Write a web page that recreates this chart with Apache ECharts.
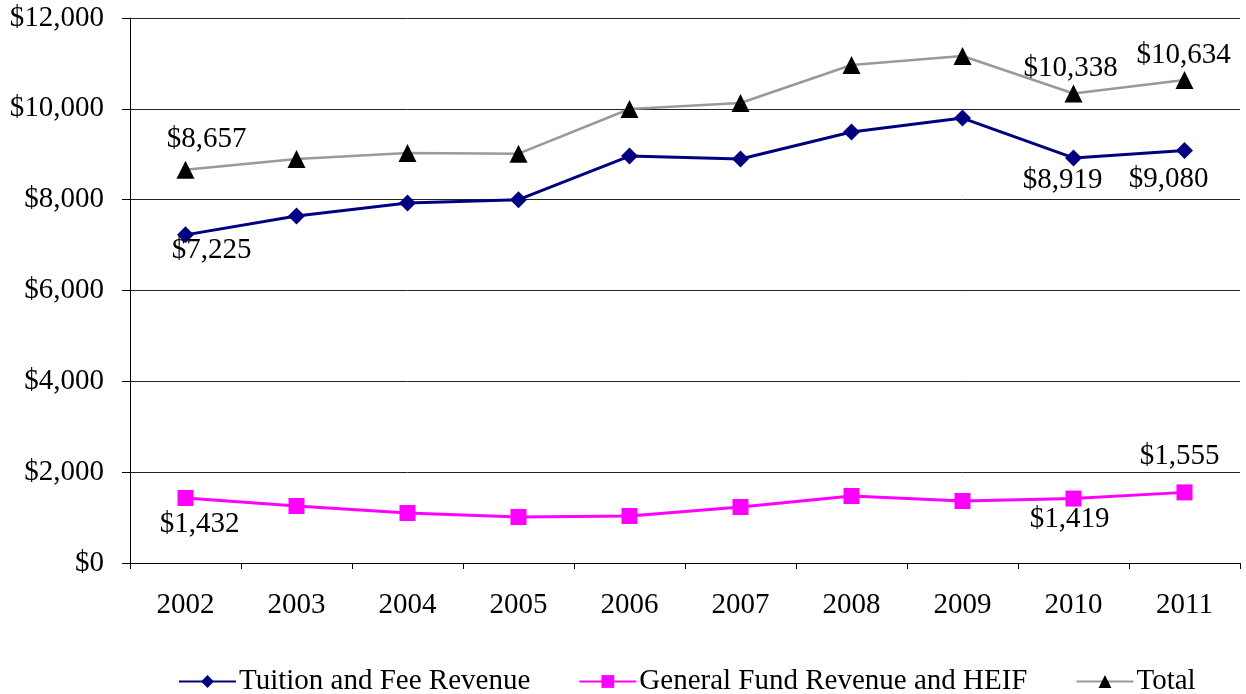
<!DOCTYPE html>
<html>
<head>
<meta charset="utf-8">
<script src="https://cdn.jsdelivr.net/npm/echarts@6/dist/echarts.min.js"></script>
<style>
  html, body { margin: 0; padding: 0; background: #fff; }
  #chart { width: 1246px; height: 694px; }
</style>
</head>
<body>
<div id="chart"></div>
<script>
var years = ['2002', '2003', '2004', '2005', '2006', '2007', '2008', '2009', '2010', '2011'];
var tuition = [7225, 7640, 7926, 8000, 8961, 8895, 9489, 9797, 8919, 9080];
var generalFund = [1432, 1255, 1100, 1013, 1035, 1233, 1475, 1365, 1419, 1555];
var total = [8657, 8895, 9026, 9013, 9996, 10128, 10964, 11162, 10338, 10634];

var FONT = '"Liberation Serif", "DejaVu Serif", serif';
var FS = 29;

function money(v) {
  return '$' + Number(v).toLocaleString('en-US');
}

// which points get a value label; offset is from the point's centre
function withLabels(values, spots) {
  return values.map(function (v, i) {
    var off = spots[i];
    if (!off) return v;
    return {
      value: v,
      label: {
        show: true,
        position: 'inside',
        offset: off,
        formatter: function (p) { return money(p.value); },
        fontFamily: FONT,
        fontSize: FS,
        color: '#000'
      }
    };
  });
}

var chart = echarts.init(document.getElementById('chart'));
chart.setOption({
  animation: false,
  backgroundColor: '#fff',
  textStyle: { fontFamily: FONT },
  grid: { left: 130, right: 6, top: 18, bottom: 131 },
  legend: {
    top: 662,
    left: 173,
    itemWidth: 57,
    itemHeight: 16,
    itemGap: 48,
    textStyle: { fontFamily: FONT, fontSize: FS, color: '#000', padding: [0, 0, 0, -2] },
    data: ['Tuition and Fee Revenue', 'General Fund Revenue and HEIF', 'Total']
  },
  xAxis: {
    type: 'category',
    data: years,
    boundaryGap: true,
    axisLine: { lineStyle: { color: '#000', width: 1 } },
    axisTick: { show: true, length: 6, inside: false, lineStyle: { color: '#000' } },
    axisLabel: { fontFamily: FONT, fontSize: FS, color: '#000', margin: 28 }
  },
  yAxis: {
    type: 'value',
    min: 0,
    max: 12000,
    interval: 2000,
    axisLine: { show: true, lineStyle: { color: '#000', width: 1 } },
    axisTick: { show: true, length: 8, lineStyle: { color: '#000' } },
    axisLabel: {
      fontFamily: FONT, fontSize: FS, color: '#000', margin: 26,
      formatter: function (v) { return money(v); }
    },
    splitLine: { show: true, lineStyle: { color: '#222', width: 1 } }
  },
  series: [
    {
      name: 'Tuition and Fee Revenue',
      type: 'line',
      symbol: 'diamond',
      symbolSize: 17,
      lineStyle: { color: '#000080', width: 3 },
      itemStyle: { color: '#000080' },
      data: withLabels(tuition, {
        0: [26, 16],
        8: [-11, 22],
        9: [-16, 29]
      }),
      z: 3
    },
    {
      name: 'General Fund Revenue and HEIF',
      type: 'line',
      symbol: 'rect',
      symbolSize: 16,
      lineStyle: { color: '#FF00FF', width: 3 },
      itemStyle: { color: '#FF00FF' },
      data: withLabels(generalFund, {
        0: [14, 26],
        8: [-4, 21],
        9: [-5, -36]
      }),
      z: 2
    },
    {
      name: 'Total',
      type: 'line',
      symbol: 'triangle',
      symbolSize: 18,
      lineStyle: { color: '#999999', width: 2.5 },
      itemStyle: { color: '#000' },
      data: withLabels(total, {
        0: [21, -30],
        8: [-3, -25],
        9: [-1, -25]
      }),
      z: 4
    }
  ]
});
</script>
</body>
</html>
